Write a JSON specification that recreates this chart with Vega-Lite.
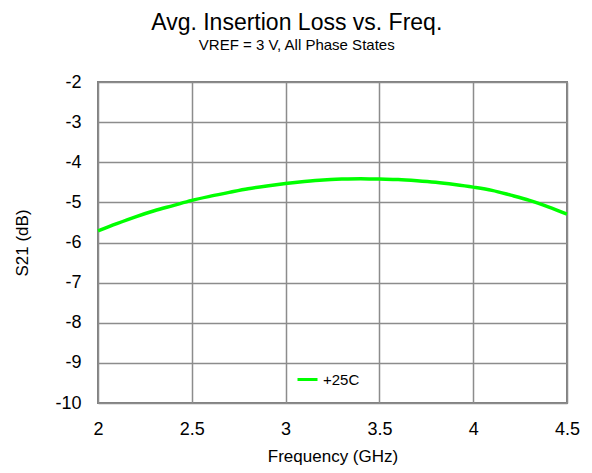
{
  "$schema": "https://vega.github.io/schema/vega-lite/v6.json",
  "width": 469,
  "height": 321,
  "autosize": {"type": "none"},
  "padding": {"left": 98, "top": 82, "right": 25, "bottom": 70},
  "background": "white",
  "title": {
    "text": "Avg. Insertion Loss vs. Freq.",
    "subtitle": "VREF = 3 V, All Phase States",
    "anchor": "middle",
    "frame": "bounds",
    "font": "Liberation Sans",
    "fontSize": 23,
    "fontWeight": "normal",
    "color": "black",
    "subtitleFont": "Liberation Sans",
    "subtitleFontSize": 15,
    "subtitleColor": "black",
    "subtitlePadding": 3,
    "offset": 20
  },
  "config": {
    "view": {"stroke": "#808080", "strokeWidth": 2},
    "axis": {
      "labelFont": "Liberation Sans",
      "titleFont": "Liberation Sans",
      "labelFontSize": 18,
      "titleFontSize": 17,
      "titleFontWeight": "normal",
      "labelColor": "black",
      "titleColor": "black",
      "domain": false,
      "ticks": false,
      "gridColor": "#8c8c8c",
      "gridWidth": 1.5,
      "gridOpacity": 1
    },
    "legend": {"labelFont": "Liberation Sans", "labelFontSize": 15, "labelColor": "black"}
  },
  "data": {
    "values": [
      {"f": 2.0, "s21": -5.71, "series": "+25C"},
      {"f": 2.1, "s21": -5.53, "series": "+25C"},
      {"f": 2.2, "s21": -5.36, "series": "+25C"},
      {"f": 2.3, "s21": -5.21, "series": "+25C"},
      {"f": 2.4, "s21": -5.08, "series": "+25C"},
      {"f": 2.5, "s21": -4.95, "series": "+25C"},
      {"f": 2.6, "s21": -4.845, "series": "+25C"},
      {"f": 2.7, "s21": -4.75, "series": "+25C"},
      {"f": 2.8, "s21": -4.66, "series": "+25C"},
      {"f": 2.9, "s21": -4.59, "series": "+25C"},
      {"f": 3.0, "s21": -4.53, "series": "+25C"},
      {"f": 3.1, "s21": -4.48, "series": "+25C"},
      {"f": 3.2, "s21": -4.44, "series": "+25C"},
      {"f": 3.3, "s21": -4.42, "series": "+25C"},
      {"f": 3.4, "s21": -4.41, "series": "+25C"},
      {"f": 3.5, "s21": -4.42, "series": "+25C"},
      {"f": 3.6, "s21": -4.43, "series": "+25C"},
      {"f": 3.7, "s21": -4.46, "series": "+25C"},
      {"f": 3.8, "s21": -4.50, "series": "+25C"},
      {"f": 3.9, "s21": -4.555, "series": "+25C"},
      {"f": 4.0, "s21": -4.62, "series": "+25C"},
      {"f": 4.1, "s21": -4.70, "series": "+25C"},
      {"f": 4.2, "s21": -4.82, "series": "+25C"},
      {"f": 4.3, "s21": -4.95, "series": "+25C"},
      {"f": 4.4, "s21": -5.11, "series": "+25C"},
      {"f": 4.5, "s21": -5.29, "series": "+25C"}
    ]
  },
  "mark": {"type": "line", "strokeWidth": 3.5, "interpolate": "monotone"},
  "encoding": {
    "x": {
      "field": "f",
      "type": "quantitative",
      "scale": {"domain": [2, 4.5], "nice": false, "zero": false},
      "axis": {"title": "Frequency (GHz)", "values": [2, 2.5, 3, 3.5, 4, 4.5], "format": "~g", "labelPadding": 17, "titlePadding": 10, "labelFlush": false}
    },
    "y": {
      "field": "s21",
      "type": "quantitative",
      "scale": {"domain": [-10, -2], "nice": false, "zero": false},
      "axis": {"title": "S21 (dB)", "values": [-10, -9, -8, -7, -6, -5, -4, -3, -2], "labelExpr": "toString(datum.value)", "labelPadding": 17, "titlePadding": 23}
    },
    "color": {
      "field": "series",
      "type": "nominal",
      "scale": {"range": ["#00ff00"]},
      "legend": {"title": null, "orient": "none", "legendX": 198, "legendY": 286, "symbolType": "stroke", "symbolStrokeWidth": 3, "symbolSize": 400}
    }
  }
}
